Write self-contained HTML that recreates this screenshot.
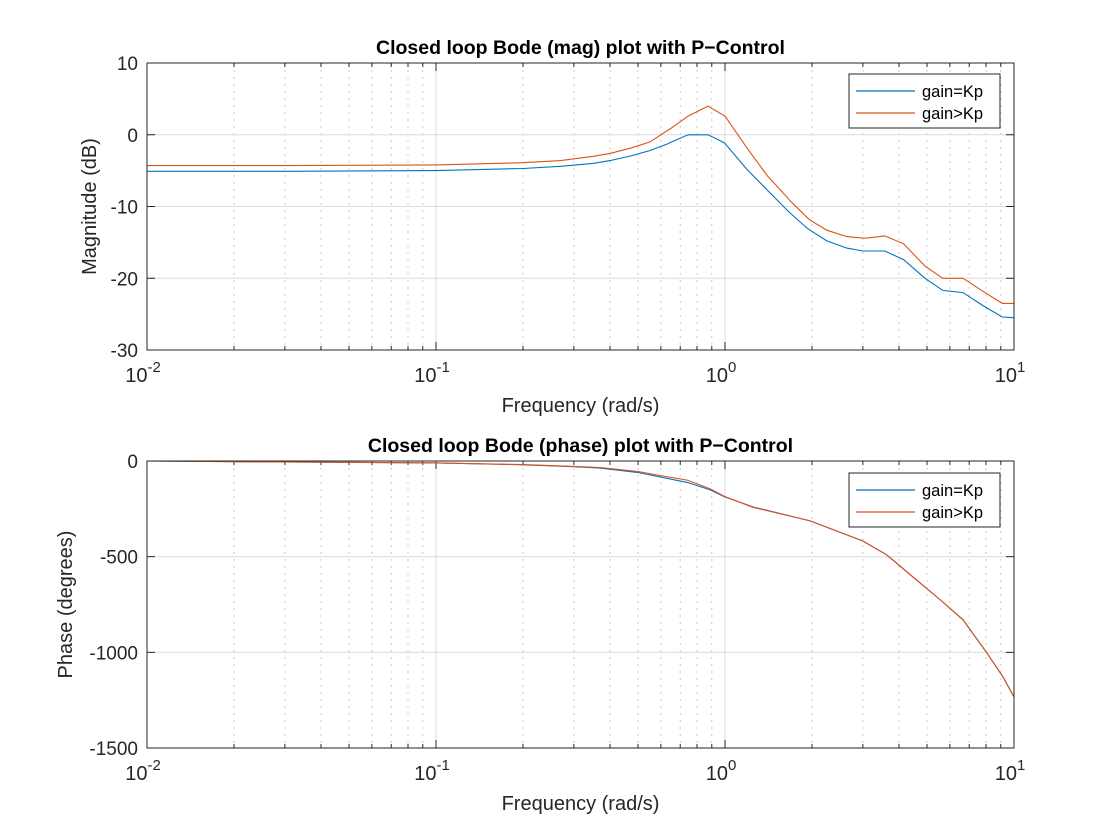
<!DOCTYPE html>
<html><head><meta charset="utf-8"><style>
body{margin:0;background:#fff;}
svg{display:block;font-family:"Liberation Sans",Helvetica,Arial,sans-serif;}
</style></head><body>
<svg id="chart" width="1120" height="840" viewBox="0 0 1120 840"></svg>
<script>
// ---- data ----
const magFreq = [0.01,0.03,0.1,0.2,0.27,0.35,0.40,0.477,0.55,0.63,0.645,0.745,0.873,0.98,1.0,1.19,1.4,1.64,1.68,1.92,1.97,2.25,2.64,3.0,3.1,3.57,4.15,4.92,5.67,6.66,7.8,9.1,10];
const magKp =   [-5.1,-5.1,-5.0,-4.7,-4.4,-4.0,-3.6,-2.9,-2.2,-1.3,-1.1,0.0,0.0,-1.0,-1.2,-4.8,-7.7,-10.5,-10.9,-13.0,-13.3,-14.8,-15.8,-16.2,-16.2,-16.2,-17.4,-20.0,-21.7,-22.0,-23.8,-25.4,-25.5];
const magHigh = [-4.3,-4.3,-4.2,-3.9,-3.6,-3.0,-2.6,-1.8,-1.0,0.55,0.8,2.6,4.0,2.8,2.6,-1.8,-5.7,-8.7,-9.2,-11.5,-11.9,-13.3,-14.2,-14.4,-14.4,-14.1,-15.2,-18.3,-20.0,-20.0,-21.8,-23.5,-23.5];
const phFreq = [0.01,0.03,0.1,0.2,0.3,0.37,0.5,0.596,0.74,0.887,1.0,1.25,1.97,3.0,3.63,4.5,5.67,6.66,8.06,9.15,10];
const phKp =   [0,-5,-10,-20,-30,-37,-60,-83,-112,-150,-188,-240,-313,-418,-491,-610,-737,-830,-1003,-1128,-1233];
const phHigh = [0,-5,-10,-19,-28,-34,-55,-76,-100,-145,-186,-242,-313,-418,-491,-610,-737,-830,-1003,-1128,-1233];
const magTicks = [10,0,-10,-20,-30];
const phTicks = [0,-500,-1000,-1500];
const xTickLabels = ["-2","-1","0","1"];

const NS="http://www.w3.org/2000/svg";
const svg=document.getElementById('chart');
function mk(tag,attrs,parent){const e=document.createElementNS(NS,tag);for(const k in attrs)e.setAttribute(k,attrs[k]);(parent||svg).appendChild(e);return e;}

const X0=147,X1=1014;
function xs(f){return X0+(Math.log10(f)+2)/3*(X1-X0);}

function panel(top,bot,ymin,ymax,ticks,title,ylabel,ylx,freqs,s1,s2,legY,name){
  const g=mk('g',{});
  
  
  const ys=v=>bot-(v-ymin)/(ymax-ymin)*(bot-top);
  mk('rect',{x:X0,y:top,width:X1-X0,height:bot-top,fill:'#fff'},g);
  for(let d=-2;d<1;d++)for(let m=2;m<=9;m++){
    const x=xs(m*Math.pow(10,d));
    mk('line',{x1:x,x2:x,y1:top,y2:bot,stroke:'#c8c8c8','stroke-width':1,'stroke-dasharray':'2,5'},g);
  }
  for(let d=-1;d<=0;d++){const x=xs(Math.pow(10,d));mk('line',{x1:x,x2:x,y1:top,y2:bot,stroke:'#dcdcdc','stroke-width':1},g);}
  ticks.forEach(t=>{const y=ys(t);if(t!==ymin&&t!==ymax)mk('line',{x1:X0,x2:X1,y1:y,y2:y,stroke:'#dcdcdc','stroke-width':1},g);
    mk('line',{x1:X0,x2:X0+8,y1:y,y2:y,stroke:'#262626'},g);mk('line',{x1:X1-8,x2:X1,y1:y,y2:y,stroke:'#262626'},g);
    const tl=mk('text',{x:X0-9,y:y+7,'text-anchor':'end','font-size':19,fill:'#262626'},g);tl.textContent=t;
    
    
  });
  xTickLabels.forEach(p=>{const x=xs(Math.pow(10,+p));
    mk('line',{x1:x,x2:x,y1:bot,y2:bot-8,stroke:'#262626'},g);mk('line',{x1:x,x2:x,y1:top,y2:top+8,stroke:'#262626'},g);
    const t=mk('text',{x:x-4,y:bot+32,'text-anchor':'middle','font-size':20,fill:'#262626'},g);
    
    
    t.textContent='10';const sp=mk('tspan',{dy:-10,'font-size':15},t);sp.textContent=p;
  });
  for(let d=-2;d<1;d++)for(let m=2;m<=9;m++){const x=xs(m*Math.pow(10,d));
    mk('line',{x1:x,x2:x,y1:bot,y2:bot-4,stroke:'#262626'},g);mk('line',{x1:x,x2:x,y1:top,y2:top+4,stroke:'#262626'},g);}
  const pts=s=>freqs.map((f,i)=>xs(f).toFixed(1)+','+ys(s[i]).toFixed(1)).join(' ');
  const l1=mk('polyline',{points:pts(s1),fill:'none',stroke:'#0072BD','stroke-width':1.1},g);
  
  
  const l2=mk('polyline',{points:pts(s2),fill:'none',stroke:'#D95319','stroke-width':1.1},g);
  
  
  mk('rect',{x:X0,y:top,width:X1-X0,height:bot-top,fill:'none',stroke:'#262626','stroke-width':1},g);
  const tt=mk('text',{x:(X0+X1)/2,y:top-9,'text-anchor':'middle','font-size':19.5,'font-weight':'bold',fill:'#000'},g);tt.textContent=title;
  
  
  const xl=mk('text',{x:(X0+X1)/2,y:bot+62,'text-anchor':'middle','font-size':20,fill:'#262626'},g);xl.textContent='Frequency (rad/s)';
  
  
  const cy=(top+bot)/2;
  const yl=mk('text',{x:0,y:0,transform:`translate(${ylx},${cy}) rotate(-90)`,'text-anchor':'middle','font-size':20,fill:'#262626'},g);yl.textContent=ylabel;
  
  
  const lg=mk('g',{},g);
  
  
  mk('rect',{x:849,y:legY,width:151,height:54,fill:'#fff',stroke:'#262626','stroke-width':1},lg);
  [['gain=Kp','#0072BD'],['gain>Kp','#D95319']].forEach((e,i)=>{const y=legY+17+i*22;
    mk('line',{x1:856,x2:915,y1:y,y2:y,stroke:e[1],'stroke-width':1.2},lg);
    const t=mk('text',{x:922,y:y+6,'font-size':16.5,fill:'#000'},lg);t.textContent=e[0];
    
    
  });
}
panel(63,350,-30,10,magTicks,'Closed loop Bode (mag) plot with P\u2212Control','Magnitude (dB)',96,magFreq,magKp,magHigh,74,'magnitude-plot');
panel(461,748,-1500,0,phTicks,'Closed loop Bode (phase) plot with P\u2212Control','Phase (degrees)',72,phFreq,phKp,phHigh,473,'phase-plot');
</script>
</body></html>
